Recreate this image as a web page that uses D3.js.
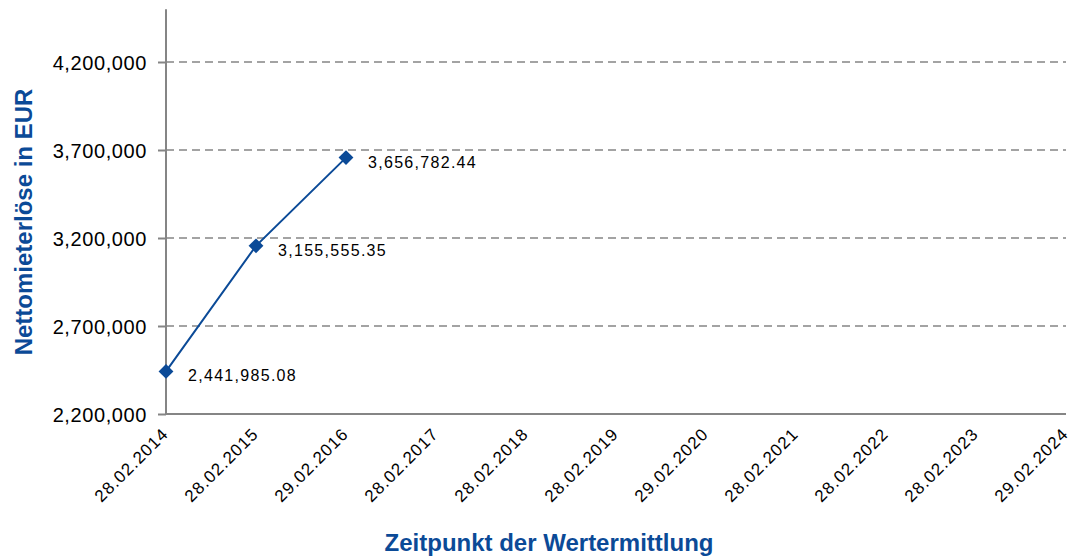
<!DOCTYPE html>
<html>
<head>
<meta charset="utf-8">
<script src="https://cdn.jsdelivr.net/npm/d3@7"></script>
<style>
  body { margin: 0; background: #fff; }
  text { font-family: "Liberation Sans", Arial, sans-serif; }
</style>
</head>
<body>
<script>
var dates = ["28.02.2014", "28.02.2015", "29.02.2016", "28.02.2017", "28.02.2018",
             "28.02.2019", "29.02.2020", "28.02.2021", "28.02.2022", "28.02.2023", "29.02.2024"];
var values = [2441985.08, 3155555.35, 3656782.44];
var yTicks = [2200000, 2700000, 3200000, 3700000, 4200000];

var width = 1074, height = 558;
var left = 166, right = 1066, top = 9, bottom = 414;
var blue = "#0b4a97";
var grey = "#858585";

var svg = d3.select("body")
            .append("svg")
            .attr("width", width)
            .attr("height", height);

var xScale = d3.scalePoint()
               .domain(dates)
               .range([left, right]);

var yScale = d3.scaleLinear()
               .domain([2200000, 4500000])
               .range([bottom, bottom - 88 * 4.6]);

var fmt = d3.format(",.0f");
var fmt2 = d3.format(",.2f");

//Grid
svg.append("g")
   .selectAll("line")
   .data(yTicks.slice(1))
   .enter()
   .append("line")
   .attr("x1", left)
   .attr("x2", right)
   .attr("y1", function(d){ return yScale(d); })
   .attr("y2", function(d){ return yScale(d); })
   .attr("stroke", grey)
   .attr("stroke-width", 1.5)
   .attr("stroke-dasharray", "8,5");

//Y axis
var yAxis = d3.axisLeft(yScale)
              .tickValues(yTicks)
              .tickFormat(fmt)
              .tickSizeInner(8)
              .tickSizeOuter(0)
              .tickPadding(11);

var gy = svg.append("g")
            .attr("transform", "translate(" + left + ",0)")
            .call(yAxis);
gy.select(".domain").remove();
gy.selectAll(".tick line").attr("stroke", grey).attr("stroke-width", 2);
gy.selectAll(".tick text")
  .attr("fill", "#000")
  .style("font-size", "20px")
  .style("letter-spacing", "0.6px")
  .attr("dy", "0.35em");

svg.append("line")
   .attr("x1", left).attr("x2", left)
   .attr("y1", yScale.range()[1]).attr("y2", bottom + 1)
   .attr("stroke", grey)
   .attr("stroke-width", 2);

//X axis
var xAxis = d3.axisBottom(xScale)
              .tickSize(0)
              .tickPadding(0);

var gx = svg.append("g")
            .attr("transform", "translate(0," + bottom + ")")
            .call(xAxis);
gx.select(".domain").remove();
gx.selectAll(".tick text")
  .attr("fill", "#000")
  .style("font-size", "17px")
  .style("letter-spacing", "1.1px")
  .attr("text-anchor", "end")
  .attr("dy", "0")
  .attr("y", 0)
  .attr("transform", "translate(3,21) rotate(-45)");

svg.append("line")
   .attr("x1", left - 1).attr("x2", right)
   .attr("y1", bottom).attr("y2", bottom)
   .attr("stroke", grey)
   .attr("stroke-width", 2);

//Line
var pts = values.map(function(v, i){ return {date: dates[i], value: v}; });

var line = d3.line()
             .x(function(d){ return xScale(d.date); })
             .y(function(d){ return yScale(d.value); });

svg.append("path")
   .datum(pts)
   .attr("d", line)
   .attr("fill", "none")
   .attr("stroke", blue)
   .attr("stroke-width", 2);

svg.selectAll(".marker")
   .data(pts)
   .enter()
   .append("path")
   .attr("class", "marker")
   .attr("d", d3.symbol().type(d3.symbolDiamond2).size(140))
   .attr("transform", function(d){
       return "translate(" + xScale(d.date) + "," + yScale(d.value) + ")";
   })
   .attr("fill", blue);

svg.selectAll(".lbl")
   .data(pts)
   .enter()
   .append("text")
   .attr("class", "lbl")
   .attr("x", function(d){ return xScale(d.date) + 22; })
   .attr("y", function(d){ return yScale(d.value) + 10; })
   .style("font-size", "16px")
   .style("letter-spacing", "1.3px")
   .text(function(d){ return fmt2(d.value); });

//Axis titles
svg.append("text")
   .attr("x", 549)
   .attr("y", 551)
   .attr("text-anchor", "middle")
   .attr("fill", blue)
   .style("font-size", "24px")
   .style("font-weight", "bold")
   .text("Zeitpunkt der Wertermittlung");

svg.append("text")
   .attr("transform", "translate(32,222) rotate(-90)")
   .attr("text-anchor", "middle")
   .attr("fill", blue)
   .style("font-size", "24px")
   .style("font-weight", "bold")
   .text("Nettomieterlöse in EUR");
</script>
</body>
</html>
